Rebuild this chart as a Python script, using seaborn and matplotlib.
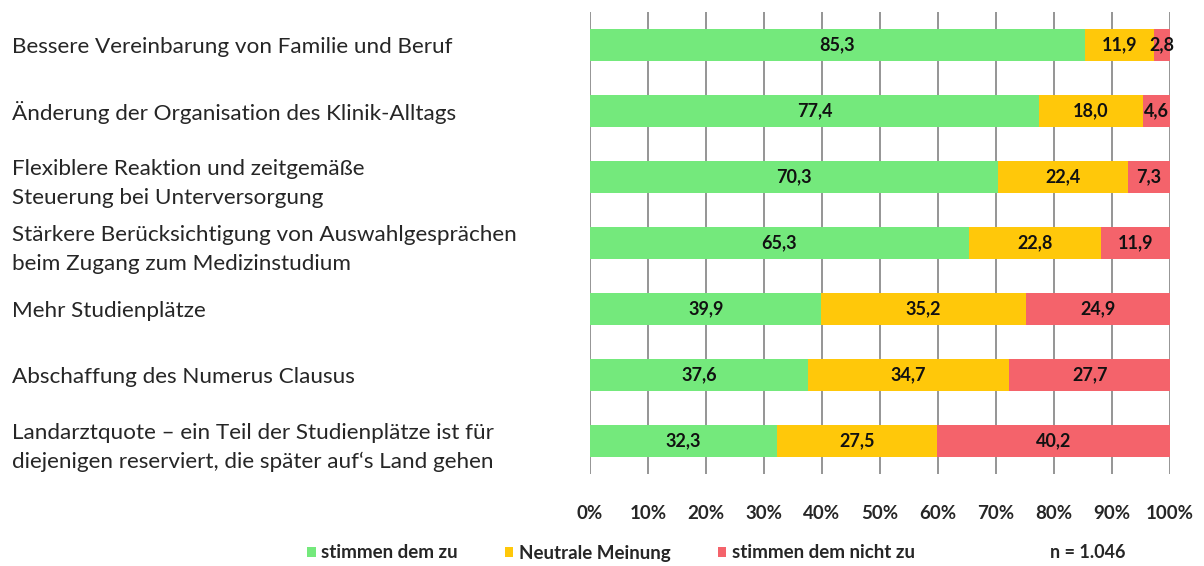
import matplotlib
matplotlib.use("Agg")
import matplotlib.pyplot as plt
import seaborn as sns
import pandas as pd
import numpy as np
from matplotlib.patches import Patch

categories = [
    "Bessere Vereinbarung von Familie und Beruf",
    "Änderung der Organisation des Klinik-Alltags",
    "Flexiblere Reaktion und zeitgemäße\nSteuerung bei Unterversorgung",
    "Stärkere Berücksichtigung von Auswahlgesprächen\nbeim Zugang zum Medizinstudium",
    "Mehr Studienplätze",
    "Abschaffung des Numerus Clausus",
    "Landarztquote – ein Teil der Studienplätze ist für\ndiejenigen reserviert, die später auf‘s Land gehen",
]
zustimmung = [85.3, 77.4, 70.3, 65.3, 39.9, 37.6, 32.3]
neutral = [11.9, 18.0, 22.4, 22.8, 35.2, 34.7, 27.5]
ablehnung = [2.8, 4.6, 7.3, 11.9, 24.9, 27.7, 40.2]
series_names = ["stimmen dem zu", "Neutrale Meinung", "stimmen dem nicht zu"]
x_ticks = [0, 10, 20, 30, 40, 50, 60, 70, 80, 90, 100]
n_text = "n = 1.046"

colors = ["#74E97C", "#FFC80A", "#F4636B"]

sns.set_theme(style="white")
plt.rcParams['font.family'] = ['Lato', 'DejaVu Sans']

df = pd.DataFrame({
    "cat": categories,
    "g": zustimmung,
    "n": neutral,
    "r": ablehnung,
})
df["cum1"] = df["g"]
df["cum2"] = df["g"] + df["n"]
df["cum3"] = df["cum2"] + df["r"]

fig = plt.figure(figsize=(12.04, 5.66), dpi=100)
ax = fig.add_axes([590/1204, 1-474/566, 580/1204, (474-12)/566])

for col, c in zip(["cum3", "cum2", "cum1"], colors[::-1]):
    sns.barplot(data=df, x=col, y="cat", orient="h", color=c, width=0.49,
                ax=ax, saturation=1, edgecolor="none", linewidth=0, zorder=3)

# labels
for i, row in df.iterrows():
    starts = [0, row["g"], row["g"] + row["n"]]
    vals = [row["g"], row["n"], row["r"]]
    for s, v in zip(starts, vals):
        ax.text(s + v / 2, i, f"{v:.1f}".replace(".", ","), ha="center", va="center",
                fontsize=13, fontweight="bold", color="#111111", zorder=5)

ax.set_xlim(0, 100)
ax.set_ylim(6.5, -0.5)
ax.set_xticks(x_ticks)
ax.set_xticklabels([f"{t}%" for t in x_ticks], fontsize=13.5, fontweight="bold")
ax.tick_params(axis="x", length=0, pad=22)
ax.set_yticks(range(len(categories)))
ax.set_yticklabels(categories, fontsize=16.2, ha="left", linespacing=1.55)
ax.tick_params(axis="y", length=0, pad=578 * 0.72)
ax.set_xlabel("")
ax.set_ylabel("")
for s in ax.spines.values():
    s.set_visible(False)
ax.grid(axis="x", color="#8C8C8C", linewidth=1.3, zorder=0)
ax.grid(axis="y", visible=False)
ax.set_axisbelow(True)

handles = [Patch(facecolor=c, edgecolor="none") for c in colors]
leg = fig.legend(handles, series_names, loc="center", bbox_to_anchor=(611/1204, 1 - 553/566),
                 ncol=3, frameon=False, handlelength=0.45, handleheight=0.45,
                 handletextpad=0.3, columnspacing=2.5,
                 prop={"size": 13.5, "weight": "bold"})
fig.text(1088/1204, 1 - 553/566, n_text, ha="center", va="center",
         fontsize=13, fontweight="bold")

fig.savefig("out.png", dpi=100)
